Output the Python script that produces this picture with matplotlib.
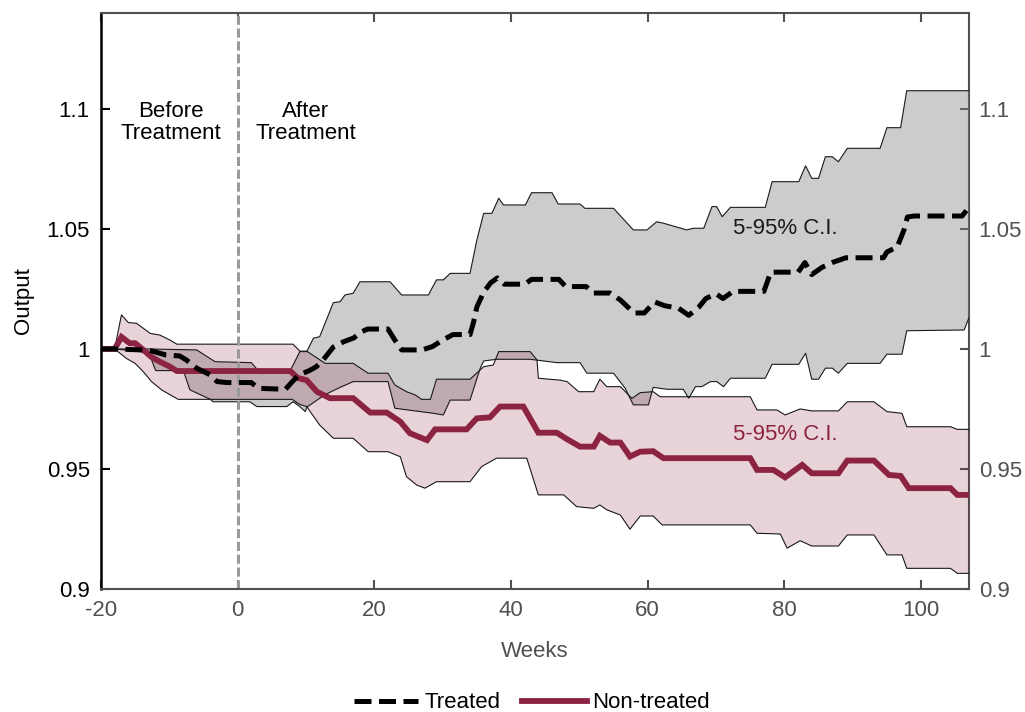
import numpy as np
import matplotlib
matplotlib.use('Agg')
import matplotlib.pyplot as plt

plt.rcParams['font.family'] = ['Liberation Sans', 'DejaVu Sans']
plt.rcParams['axes.unicode_minus'] = False

# treated: mean and 5-95% band
tr_wk = [-20, -18, -13, -10.5, -8.5, -7.5, -6, -4, -3, -1.5, 2, 3, 7, 8, 9, 10.5, 11.5, 12.5, 14, 15.5,
         17, 18, 19, 22, 23, 24, 27, 28.5, 30, 31.5, 34, 34.5, 35, 36, 37, 38, 39, 42, 43, 47,
         48, 51, 52, 54.5, 56, 58, 59.5, 61, 62.5, 64.5, 66, 67.5, 68.5, 70, 71, 72.5, 77, 78, 82, 83,
         84, 85.5, 87, 89, 94.5, 95, 96.5, 97.5, 98, 99, 106, 107]
tr_mean = [1.0, 1.0, 0.9995, 0.9975, 0.9971, 0.9954, 0.992, 0.9892, 0.9864, 0.986, 0.986, 0.9836, 0.9832, 0.9864,
           0.9892, 0.991, 0.9926, 0.9954, 1.0008, 1.003, 1.0046, 1.007, 1.0083, 1.0083, 1.0037, 0.9996, 0.9996,
           1.001, 1.0037, 1.006, 1.006, 1.011, 1.0175, 1.0237, 1.0275, 1.0296, 1.027, 1.027, 1.029, 1.029,
           1.026, 1.026, 1.0233, 1.0233, 1.0204, 1.015, 1.015, 1.0196, 1.018, 1.017, 1.014, 1.0175, 1.021,
           1.023, 1.021, 1.024, 1.024, 1.032, 1.032, 1.036, 1.031, 1.034, 1.036, 1.038, 1.038, 1.0404, 1.0425,
           1.0496, 1.055, 1.0554, 1.0554, 1.059]

tr_up_wk = [-20, -18, -13, -6, -3.3, 2, 3, 7.7, 9.1, 10.1, 11.1, 12, 14, 15, 15.7, 16.9, 17.9, 22.3, 24, 27.9,
            29.1, 30.1, 31.1, 34, 35, 36, 37.2, 38.2, 38.9, 42.1, 43, 46, 46.9, 50.1, 50.8, 55, 57.9, 59.9,
            61.3, 62.3, 65.7, 66.7, 68.2, 69.4, 70.1, 70.9, 72.1, 77.2, 78.2, 82.1, 83.1, 84, 85, 86, 87,
            87.9, 89.2, 94, 95, 97, 97.9, 107]
tr_up = [1.0, 1.0, 1.0, 0.9996, 0.9947, 0.9943, 0.991, 0.991, 0.9989, 0.9989, 1.0045, 1.0051, 1.0193, 1.0197,
         1.0225, 1.0232, 1.028, 1.028, 1.0225, 1.0225, 1.0288, 1.0288, 1.0315, 1.0315, 1.0454, 1.0565, 1.0565,
         1.0628, 1.06, 1.06, 1.0651, 1.0651, 1.0604, 1.0604, 1.0586, 1.0586, 1.0496, 1.0496, 1.053, 1.0524,
         1.0496, 1.0503, 1.0503, 1.0593, 1.0593, 1.0551, 1.059, 1.059, 1.0697, 1.0697, 1.0763, 1.0711, 1.0711,
         1.0801, 1.0801, 1.078, 1.0836, 1.0836, 1.0922, 1.0922, 1.1076, 1.1076]

tr_lo_wk = [-20, -18, -13, -12, -8, -7.7, -7, -4, -3.6, 1.8, 2.8, 7.2, 8.1, 9.1, 9.9, 10.1, 12.8, 15, 16.9,
            22, 23, 28.6, 30.1, 31.1, 34, 35.5, 36, 37.9, 42.8, 46.7, 50.1, 51.1, 55, 56.7, 57.9, 60.1,
            60.8, 62.8, 65.2, 66, 67, 67.9, 69.2, 70.1, 71.1, 72.1, 77.2, 78.2, 82.1, 83.1, 84, 85, 86, 87,
            87.9, 89.2, 94, 95, 97.2, 97.9, 106.3, 107]
tr_lo = [1.0, 1.0, 0.9985, 0.991, 0.991, 0.989, 0.983, 0.979, 0.978, 0.978, 0.976, 0.976, 0.978, 0.976, 0.9739,
         0.9757, 0.981, 0.984, 0.9864, 0.9864, 0.9753, 0.9732, 0.9725, 0.9787, 0.9787, 0.992, 0.995, 0.9957,
         0.9957, 0.9943, 0.9943, 0.9899, 0.9899, 0.9836, 0.9767, 0.9767, 0.984, 0.9832, 0.9832, 0.9795, 0.9843,
         0.9843, 0.9864, 0.9864, 0.9843, 0.9878, 0.9878, 0.9936, 0.9936, 0.9982, 0.9874, 0.9874, 0.992, 0.992,
         0.9899, 0.994, 0.994, 0.9978, 0.9978, 1.0076, 1.0079, 1.013]

# non-treated: mean and 5-95% band
nt_wk = [-20, -18, -17, -15.8, -15, -13.8, -12.6, -11.4, -9.9, -8.9, 7.7, 8.8, 10.1, 11.6, 13.5, 16.9, 19.4,
         21.8, 23.8, 25.2, 27.7, 28.9, 33.5, 35, 36.9, 38.4, 41.8, 44, 46.7, 48.2, 50.1, 52.1, 53, 54.5, 56,
         57.4, 58.9, 60.8, 62.3, 75, 76, 78.4, 80.1, 82.6, 84, 87.9, 89.2, 93.1, 95.3, 97, 98.2, 104.3, 105.3, 107]
nt_mean = [1.0, 1.0, 1.005, 1.0024, 1.0024, 0.9996, 0.9966, 0.9947, 0.9926, 0.9908, 0.9908, 0.9879, 0.987,
           0.9822, 0.9795, 0.9795, 0.9735, 0.9735, 0.9697, 0.9649, 0.962, 0.9665, 0.9665, 0.9711, 0.9715, 0.976,
           0.976, 0.9651, 0.9651, 0.9624, 0.9593, 0.9593, 0.9638, 0.961, 0.961, 0.9552, 0.9572, 0.9574, 0.9545,
           0.9545, 0.9496, 0.9496, 0.9465, 0.9517, 0.9482, 0.9482, 0.9535, 0.9535, 0.9475, 0.9471, 0.942, 0.942,
           0.9392, 0.9392]

nt_up_wk = [-20, -18, -17, -16, -14.8, -12.8, -11.4, -9.9, -8.9, 8.1, 9.1, 10.1, 12.8, 16.9, 19.1, 22, 23,
            24.7, 26, 26.9, 28.2, 29.1, 34, 36, 37.4, 38.2, 42.8, 43.8, 44, 47.2, 48.2, 49.9, 52.1, 53, 54, 56,
            57.7, 58.9, 60.8, 61.8, 75, 76, 78.9, 80.1, 82.3, 84, 87.9, 89.2, 93.1, 95, 97.2, 97.9, 104.3, 105.3, 107]
nt_up = [1.0, 1.0, 1.0142, 1.011, 1.0107, 1.0065, 1.0058, 1.0037, 1.002, 1.002, 0.9991, 0.9991, 0.994, 0.994,
         0.9899, 0.9899, 0.985, 0.9822, 0.9808, 0.979, 0.979, 0.9874, 0.9874, 0.9926, 0.9933, 0.9989, 0.9989,
         0.9954, 0.9878, 0.987, 0.9864, 0.9822, 0.9822, 0.9874, 0.9843, 0.9843, 0.9794, 0.9818, 0.9822, 0.9801,
         0.9801, 0.9746, 0.9746, 0.9725, 0.975, 0.9742, 0.9742, 0.978, 0.978, 0.9739, 0.9732, 0.9676, 0.9676,
         0.9665, 0.9665]

nt_lo_wk = [-20, -18, -16.3, -15, -13.8, -12.6, -11.1, -8.7, 8, 9, 10.1, 12, 14, 16.9, 19.1, 22, 23.8, 24.7,
            26.2, 27.4, 29.1, 34, 35.7, 37.9, 42.3, 44, 47.7, 49.6, 52.1, 53, 54, 56, 57.4, 58.9, 60.8, 62.1,
            75, 76, 79.4, 80.4, 82.3, 84, 87.9, 89.2, 93.1, 95, 97.2, 97.9, 104.3, 105.3, 107]
nt_lo = [1.0, 1.0, 0.9961, 0.994, 0.9905, 0.9864, 0.9829, 0.979, 0.979, 0.977, 0.976, 0.9683, 0.9628, 0.9628,
         0.9572, 0.9572, 0.9551, 0.9468, 0.9433, 0.942, 0.9447, 0.9447, 0.951, 0.9545, 0.9545, 0.9392, 0.9392,
         0.9343, 0.9336, 0.935, 0.933, 0.9308, 0.9249, 0.9304, 0.9304, 0.9267, 0.9267, 0.9232, 0.9229, 0.917,
         0.9201, 0.9179, 0.9179, 0.9225, 0.9225, 0.9142, 0.9142, 0.9086, 0.9086, 0.9065, 0.9065]

yticks = [0.9, 0.95, 1.0, 1.05, 1.1]
ytick_labels = ['0.9', '0.95', '1', '1.05', '1.1']
xticks = [-20, 0, 20, 40, 60, 80, 100]

maroon = '#8C2343'
gray_txt = '#505050'
fs = 16

fig = plt.figure(figsize=(10.25, 7.12), dpi=100)
ax = fig.add_axes([0.0985, 0.1728, 0.8468, 0.809])

# bands: gray first, pink on top
ax.fill(np.r_[tr_up_wk, tr_lo_wk[::-1]], np.r_[tr_up, tr_lo[::-1]], color='#808080', alpha=0.4, lw=0)
ax.fill(np.r_[nt_up_wk, nt_lo_wk[::-1]], np.r_[nt_up, nt_lo[::-1]], color=maroon, alpha=0.2, lw=0)
for wk, v in [(tr_up_wk, tr_up), (tr_lo_wk, tr_lo), (nt_up_wk, nt_up), (nt_lo_wk, nt_lo)]:
    ax.plot(wk, v, color='#1a1a1a', lw=0.8)

ax.axvline(0, color='#9a9a9a', lw=2.2, dashes=(3, 1.2))

ax.plot(nt_wk, nt_mean, color=maroon, lw=4.2, solid_joinstyle='miter', label='Non-treated')
ax.plot(tr_wk, tr_mean, color='black', lw=3.6, dashes=(3.4, 1.5), label='Treated')

ax.text(-9.8, 1.0943, 'Before\nTreatment', ha='center', va='center', fontsize=fs, linespacing=1.1)
ax.text(10.0, 1.0943, 'After\nTreatment', ha='center', va='center', fontsize=fs, linespacing=1.1)
ax.text(80.1, 1.050, '5-95% C.I.', ha='center', va='center', fontsize=fs, color='#1a1a1a')
ax.text(80.1, 0.9642, '5-95% C.I.', ha='center', va='center', fontsize=fs, color=maroon)

ax.set_xlim(-20, 107)
ax.set_ylim(0.9, 1.14)
ax.set_xticks(xticks)
ax.set_yticks(yticks)
ax.set_yticklabels(ytick_labels)

ax.tick_params(axis='x', direction='in', top=True, length=6.5, width=1.5, colors=gray_txt,
               labelsize=fs, pad=8)
ax.tick_params(axis='y', direction='in', length=6.5, width=1.5, colors='black', labelsize=fs, pad=8)

sec = ax.secondary_yaxis('right')
sec.set_yticks(yticks)
sec.set_yticklabels(ytick_labels)
sec.tick_params(direction='in', length=6.5, width=1.5, colors=gray_txt, labelsize=fs, pad=7)
sec.spines['right'].set_color(gray_txt)
sec.spines['right'].set_linewidth(1.5)

ax.spines['left'].set_color('black')
ax.spines['left'].set_linewidth(1.8)
for s in ['top', 'bottom']:
    ax.spines[s].set_color(gray_txt)
    ax.spines[s].set_linewidth(1.5)
ax.spines['right'].set_visible(False)

ax.set_xlabel('Weeks', fontsize=fs, color=gray_txt, labelpad=14)
ax.set_ylabel('Output', fontsize=fs, color='black', labelpad=9)

handles, labels = ax.get_legend_handles_labels()
fig.legend(handles[::-1], labels[::-1], loc='lower center', bbox_to_anchor=(0.519, -0.03), ncol=2,
           frameon=False, fontsize=fs, handlelength=2.9, handletextpad=0.25, columnspacing=1.0)

fig.savefig('out.png', dpi=100)
